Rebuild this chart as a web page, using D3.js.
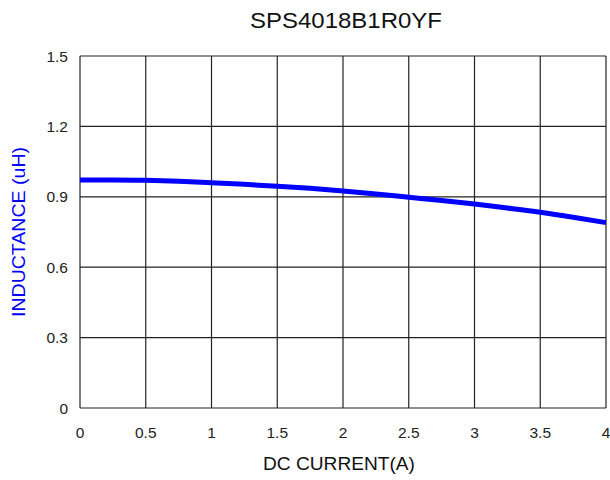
<!DOCTYPE html>
<html>
<head>
<meta charset="utf-8">
<script src="https://cdn.jsdelivr.net/npm/d3@7"></script>
<style>
  body { margin: 0; background: #fff; }
  text { font-family: "Liberation Sans", Arial, sans-serif; }
</style>
</head>
<body>
<script>
// chart data
var current = [0, 0.25, 0.5, 0.75, 1, 1.25, 1.5, 1.75, 2, 2.25, 2.5, 2.75, 3, 3.25, 3.5, 3.75, 4];
var inductance = [0.972, 0.972, 0.970, 0.966, 0.960, 0.953, 0.945, 0.936, 0.925, 0.912, 0.898, 0.884, 0.869, 0.852, 0.834, 0.813, 0.790];
var xTicks = [0, 0.5, 1, 1.5, 2, 2.5, 3, 3.5, 4];
var yTicks = [0, 0.3, 0.6, 0.9, 1.2, 1.5];

var w = 610, h = 480;
// plot box (note: "top" is taken by window.top)
var plotL = 80, plotR = 606, plotT = 56, plotB = 408;

var svg = d3.select("body").append("svg")
  .attr("width", w)
  .attr("height", h);

var x = d3.scaleLinear().domain([0, 4]).range([plotL, plotR]);
var y = d3.scaleLinear().domain([0, 1.5]).range([plotB, plotT]);

// grid
svg.append("g").selectAll("line")
  .data(xTicks)
  .enter().append("line")
  .attr("x1", function(d){ return x(d); })
  .attr("x2", function(d){ return x(d); })
  .attr("y1", plotT)
  .attr("y2", plotB)
  .attr("stroke", "#222")
  .attr("stroke-width", 1.2);

svg.append("g").selectAll("line")
  .data(yTicks)
  .enter().append("line")
  .attr("x1", plotL)
  .attr("x2", plotR)
  .attr("y1", function(d){ return y(d); })
  .attr("y2", function(d){ return y(d); })
  .attr("stroke", "#222")
  .attr("stroke-width", 1.2);

// tick labels
svg.append("g").selectAll("text")
  .data(xTicks)
  .enter().append("text")
  .attr("x", function(d){ return x(d); })
  .attr("y", 438)
  .attr("text-anchor", "middle")
  .attr("font-size", 15.5)
  .attr("fill", "#222")
  .text(function(d){ return d; });

svg.append("g").selectAll("text")
  .data(yTicks)
  .enter().append("text")
  .attr("x", 68)
  .attr("y", function(d){ return y(d) + 5.5; })
  .attr("text-anchor", "end")
  .attr("font-size", 15.5)
  .attr("fill", "#222")
  .text(function(d){ return d; });

// curve
var line = d3.line()
  .x(function(d, i){ return x(current[i]); })
  .y(function(d){ return y(d); })
  .curve(d3.curveMonotoneX);

svg.append("path")
  .datum(inductance)
  .attr("d", line)
  .attr("fill", "none")
  .attr("stroke", "#0000ff")
  .attr("stroke-width", 5);

// titles
svg.append("text")
  .attr("x", 346)
  .attr("y", 28)
  .attr("text-anchor", "middle")
  .attr("font-size", 22)
  .attr("textLength", 192)
  .attr("lengthAdjust", "spacingAndGlyphs")
  .attr("fill", "#111")
  .text("SPS4018B1R0YF");

svg.append("text")
  .attr("x", 339)
  .attr("y", 470)
  .attr("text-anchor", "middle")
  .attr("font-size", 18.5)
  .attr("textLength", 152)
  .attr("lengthAdjust", "spacingAndGlyphs")
  .attr("fill", "#111")
  .text("DC CURRENT(A)");

svg.append("text")
  .attr("transform", "translate(25,232) rotate(-90)")
  .attr("text-anchor", "middle")
  .attr("font-size", 18)
  .attr("textLength", 170)
  .attr("lengthAdjust", "spacingAndGlyphs")
  .attr("fill", "#0000ff")
  .text("INDUCTANCE (uH)");
</script>
</body>
</html>
